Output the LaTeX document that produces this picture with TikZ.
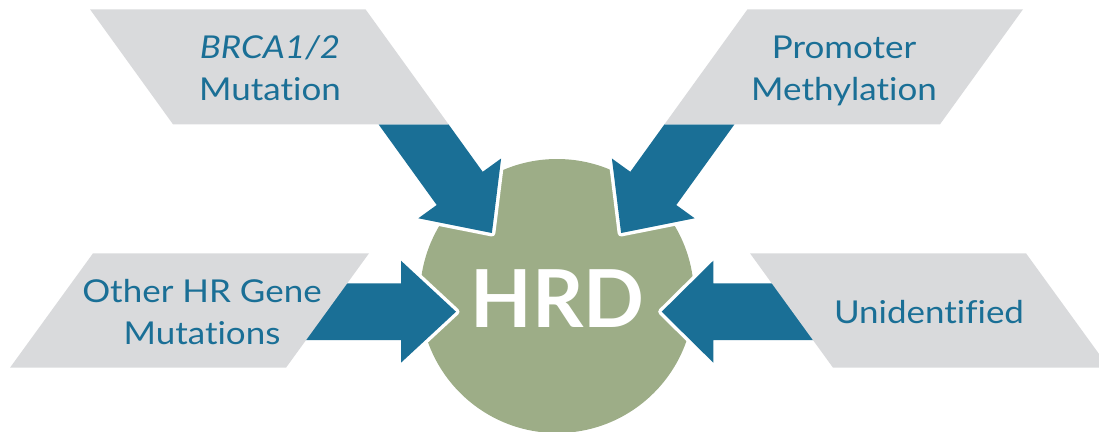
\documentclass[tikz,border=0pt]{standalone}
\usepackage{fontspec}
\setmainfont{Lato}
\newfontfamily\factorfont{Lato}[FakeStretch=1.11, Ligatures=NoCommon]
\definecolor{hrdblue}{HTML}{1A6F96}
\definecolor{hrdgreen}{HTML}{9DAD87}
\definecolor{panelgrey}{HTML}{D9DADC}
\begin{document}
\begin{tikzpicture}[x=1pt,y=-1pt,
  panel/.style={fill=panelgrey},
  blockarrow/.style={fill=hrdblue,
    preaction={draw=white, line width=7pt, line join=round}},
  factor/.style={text=hrdblue, font=\factorfont\fontsize{31.5}{42}\selectfont,
    align=center, inner sep=0pt},
  core/.style={circle, fill=hrdgreen, minimum size=274pt, inner sep=0pt},
  corelabel/.style={text=white, inner sep=0pt,
    font=\fontsize{80}{80}\selectfont\bfseries},
]
\useasboundingbox (0,0) rectangle (1099,431);

% central HRD disc
\node[core] (disc) at (557,296) {};

% four block arrows pointing into the disc
\fill[blockarrow] (378.5,124.3) -- (436.7,205) -- (418.3,218.3) -- (491.9,233)
  -- (501.1,158.5) -- (482.7,171.8) -- (448.5,124.3) -- cycle;
\fill[blockarrow] (734.5,124.3) -- (676.3,205) -- (694.7,218.3) -- (621.1,233)
  -- (611.9,158.5) -- (630.3,171.8) -- (664.5,124.3) -- cycle;
\fill[blockarrow] (300,283.3) -- (401,283.3) -- (401,260.7) -- (456,311.7)
  -- (401,362.7) -- (401,340) -- (300,340) -- cycle;
\fill[blockarrow] (820,283.3) -- (713.3,283.3) -- (713.3,260.7) -- (661.7,311.7)
  -- (713.3,362.7) -- (713.3,340) -- (820,340) -- cycle;

% slanted grey panels
\fill[panel] (90,9.3) -- (365.5,9.3) -- (448.5,124.3) -- (173,124.3) -- cycle;
\fill[panel] (747.5,9.3) -- (1023,9.3) -- (940,124.3) -- (664.5,124.3) -- cycle;
\fill[panel] (93,253.3) -- (369,253.3) -- (286,367.7) -- (10,367.7) -- cycle;
\fill[panel] (750,253.3) -- (1026,253.3) -- (1109,367.7) -- (833,367.7) -- cycle;

% labels
\node[corelabel] (hrd) at (557.5,298.5) {HRD};
\node[factor] (brca) at (270,68) {\itshape BRCA1/2\\Mutation};
\node[factor] (promoter) at (844,71) {Promoter\\Methylation};
\node[factor] (otherhr) at (202,312) {Other HR Gene\\Mutations};
\node[factor, anchor=base] (unident) at (929,323.3) {Unidentified};
\end{tikzpicture}
\end{document}
